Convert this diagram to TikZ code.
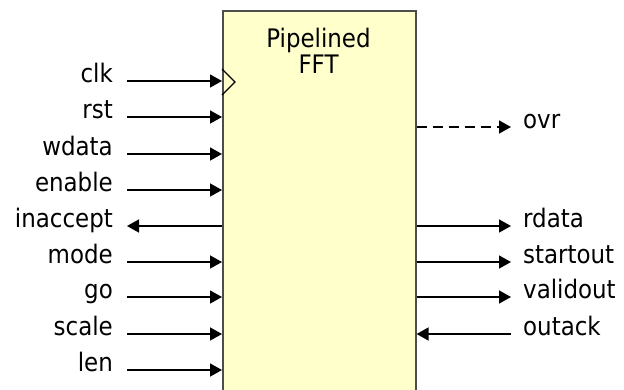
\documentclass[tikz,border=0pt]{standalone}
\usepackage{fontspec}
\setmainfont{DejaVu Sans Condensed}
\usetikzlibrary{arrows.meta,positioning,calc}
\definecolor{boxfill}{HTML}{FFFFCC}
\definecolor{boxline}{HTML}{4D4D4D}

\begin{document}
\begin{tikzpicture}[x=1pt,y=-1pt,
  fftbox/.style={draw=boxline,line width=1.6pt,fill=boxfill,minimum width=193pt,minimum height=400pt,anchor=north west,inner sep=0pt},
  sig/.style={-{Triangle[length=12pt,width=13pt]},line width=1.6pt},
  pinlbl/.style={font=\fontsize{25.5}{26}\selectfont,inner sep=0pt}
]
\useasboundingbox (0,0) rectangle (624,389);
\node[fftbox] (fft) at (222,10) {};
\node[pinlbl,align=center,anchor=north] (title) at (318.5,27.6) {Pipelined\\FFT};
% clock marker
\draw[line width=1.1pt] (222,69) -- (235,82) -- (222,95);
% inputs
\foreach \pin/\y in {clk/81,rst/117,wdata/154,enable/190,mode/262,go/297,scale/334,len/370}{
  \node[pinlbl,anchor=base east] (\pin) at (113,\y+1) {\pin};
  \coordinate (\pin-end) at (127,\y);
  \draw[sig] (\pin-end) -- (\pin-end -| fft.west);
}
\node[pinlbl,anchor=base east] (inaccept) at (113,227) {inaccept};
\coordinate (inaccept-end) at (127,226);
\draw[sig] (inaccept-end -| fft.west) -- (inaccept-end);
% outputs
\foreach \pin/\y in {rdata/226,startout/262,validout/297}{
  \node[pinlbl,anchor=base west] (\pin) at (523,\y+1) {\pin};
  \coordinate (\pin-end) at (511,\y);
  \draw[sig] (\pin-end -| fft.east) -- (\pin-end);
}
\node[pinlbl,anchor=base west] (ovr) at (523,128) {ovr};
\coordinate (ovr-end) at (511,127);
\draw[sig,dash pattern=on 10pt off 6pt] (ovr-end -| fft.east) -- (ovr-end);
\node[pinlbl,anchor=base west] (outack) at (523,335) {outack};
\coordinate (outack-end) at (511,334);
\draw[sig] (outack-end) -- (outack-end -| fft.east);
\end{tikzpicture}
\end{document}
